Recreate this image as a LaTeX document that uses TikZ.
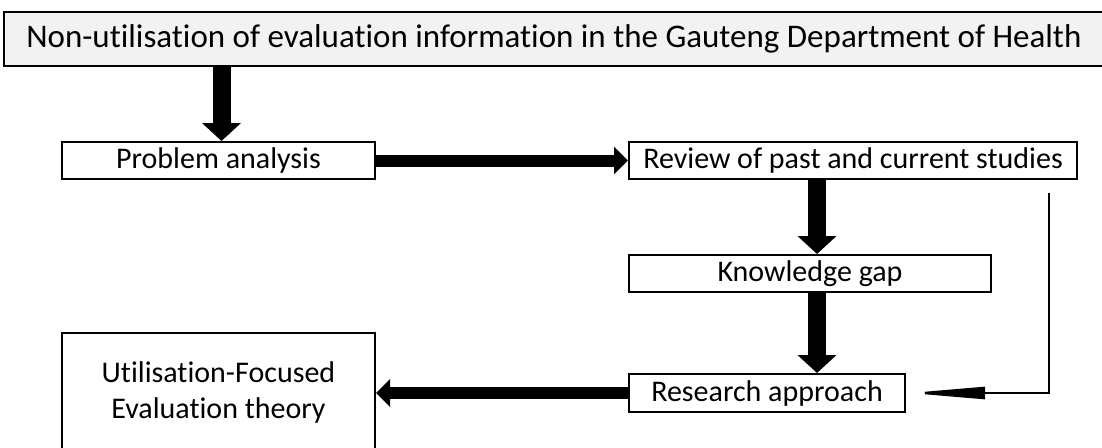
\documentclass[tikz,border=0pt]{standalone}
\usepackage{fontspec}
\setmainfont{Carlito}[Ligatures=NoCommon]
\usetikzlibrary{arrows.meta}
\definecolor{titlegrey}{HTML}{F2F2F2}

\begin{document}
\begin{tikzpicture}[
                            x=1pt,
                            y=-1pt,
                            box/.style={draw, line width=2pt, inner sep=0pt,
                                        minimum height=37pt, align=center,
                                        font=\fontsize{30}{36}\selectfont},
                            bigarrow/.style={line width=18pt,
                                        -{Triangle[width=38pt,length=18pt]}},
                            sidearrow/.style={line width=12pt,
                                        -{Triangle[width=27pt,length=14pt]}},
                            thinarrow/.style={line width=2.5pt,
                                        -{Triangle[width=12pt,length=76pt]}}
                        ]
                        \useasboundingbox (0,0) rectangle (1102,447);

                        \node[box, fill=titlegrey, minimum width=1100pt, minimum height=54pt,
                              font=\fontsize{33}{38}\selectfont] (title) at (554,39)
                              {Non-utilisation of evaluation information in the Gauteng Department of Health};
                        \node[box, minimum width=313pt] (problem)  at (218.5,160.5) {Problem analysis};
                        \node[box, minimum width=448pt] (review)   at (853,160.5)   {Review of past and current studies};
                        \node[box, minimum width=362pt] (gap)      at (810,273.5)   {Knowledge gap};
                        \node[box, minimum width=276pt, minimum height=38pt] (research) at (767,393) {Research approach};
                        \node[box, minimum width=313pt, minimum height=118pt] (ufe) at (218.5,392)
                              {Utilisation-Focused\\Evaluation theory};
                        \coordinate (loop) at (1049,193);

                        % main flow
                        \draw[bigarrow] ([xshift=3pt]title.south -| problem.north) -- ([xshift=3pt]problem.north);
                        \draw[sidearrow] (problem.east) -- (review.west);
                        \draw[bigarrow] ([xshift=7pt]gap.north |- review.south) -- ([xshift=7pt]gap.north);
                        \draw[bigarrow] ([xshift=7pt]gap.south) -- ([xshift=7pt]gap.south |- research.north);
                        \draw[sidearrow] (research.west) -- (research.west -| ufe.east);

                        % feedback line
                        \draw[thinarrow, shorten >=3pt] (loop) |- (research.east);
                    \end{tikzpicture}
\end{document}
